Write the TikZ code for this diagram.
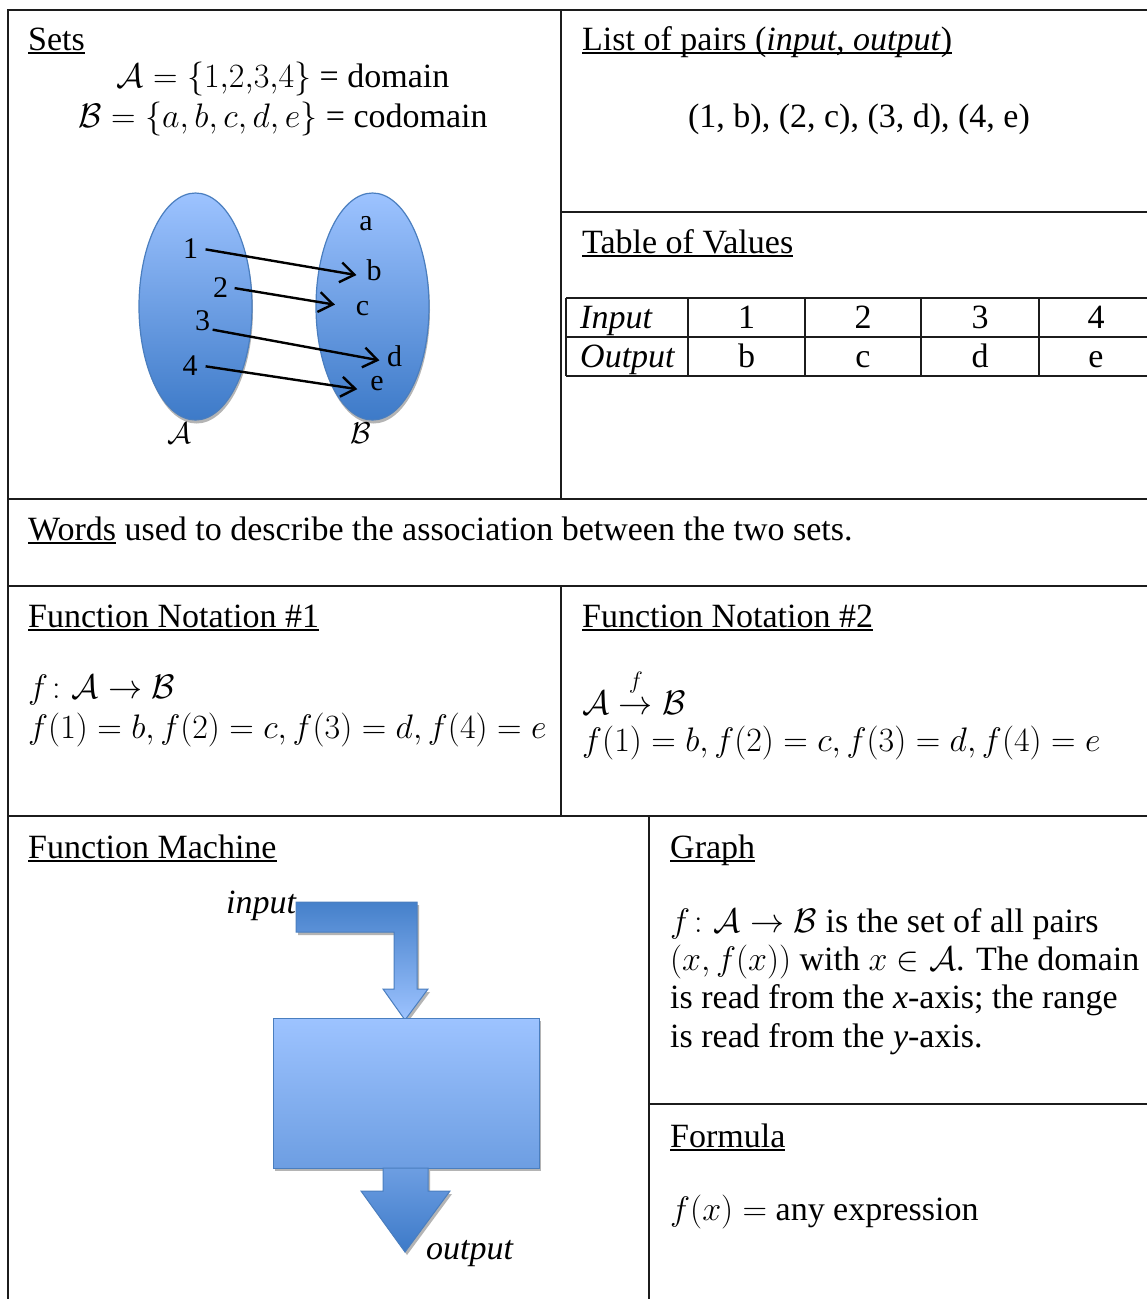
\documentclass[tikz,border=0pt]{standalone}
\usepackage{fix-cm}
\usepackage{amsmath}
\usepackage{fontspec}
\setmainfont{Liberation Serif}
\usetikzlibrary{arrows.meta,calc}
\definecolor{gridk}{HTML}{1C1C1C}
\definecolor{edgeblue}{HTML}{4A7EBF}
\definecolor{lighttop}{HTML}{9DC3FF}
\definecolor{darkbot}{HTML}{3D7AC8}
\definecolor{boxbot}{HTML}{6D9EE2}
\definecolor{arrdark}{HTML}{4580CA}
\definecolor{shadowgray}{HTML}{B4B4B4}
\newcommand{\fs}{\fontsize{34}{40}\selectfont}
\newcommand{\fsl}{\fontsize{30}{36}\selectfont}
\newsavebox\myulbox
\newcommand{\myul}[1]{\sbox\myulbox{#1}\rlap{\rule[-4pt]{\wd\myulbox}{2pt}}\usebox\myulbox}
\tikzset{
  gridline/.style={line width=2pt, draw=gridk},
  lbl/.style={inner sep=0pt, font=\fs, anchor=base west},
  clbl/.style={inner sep=0pt, font=\fs, anchor=base},
  setlbl/.style={inner sep=0pt, font=\fsl, anchor=base},
  maparrow/.style={line width=2.4pt, -{Straight Barb[length=14pt,width=20pt,line width=2.4pt]}},
  blob/.style={draw=edgeblue, line width=1.2pt, top color=lighttop, bottom color=darkbot},
  shad/.style={fill=shadowgray},
}
\begin{document}
\begin{tikzpicture}[x=1pt,y=-1pt]
\useasboundingbox (0,0) rectangle (1147,1299);
\fill[white] (0,0) rectangle (1147,1299);

% ---------- grid ----------
\draw[gridline] (1147,10) -- (7.5,10) -- (7.5,1299);
\draw[gridline] (561,10) -- (561,499);
\draw[gridline] (561,212) -- (1147,212);
\draw[gridline] (7.5,499) -- (1147,499);
\draw[gridline] (7.5,586) -- (1147,586);
\draw[gridline] (561,586) -- (561,816);
\draw[gridline] (7.5,816) -- (1147,816);
\draw[gridline] (649,816) -- (649,1299);
\draw[gridline] (649,1104) -- (1147,1104);

% ---------- Sets ----------
\node[lbl] (setsT) at (28,50) {\myul{Sets}};
\node[clbl] (setA) at (283,87) {$\mathcal{A} = \{1{,}2{,}3{,}4\}$ = domain};
\node[clbl] (setB) at (283,127) {$\mathcal{B} = \{a, b, c, d, e\}$ = codomain};

\fill[shad] (196.5,310) ellipse [x radius=56.5pt, y radius=113.5pt];
\fill[shad] (373.5,310) ellipse [x radius=56.5pt, y radius=113.5pt];
\path[blob] (195.5,306.5) ellipse [x radius=56.5pt, y radius=113.5pt];
\path[blob] (372.5,306.5) ellipse [x radius=56.5pt, y radius=113.5pt];

\node[setlbl] (n1) at (190.5,258) {1};
\node[setlbl] (n2) at (220.5,297) {2};
\node[setlbl] (n3) at (202.5,330) {3};
\node[setlbl] (n4) at (190,375) {4};
\node[setlbl] (la) at (366,230) {a};
\node[setlbl] (lb) at (374,280) {b};
\node[setlbl] (lc) at (362.5,315) {c};
\node[setlbl] (ld) at (394.5,366) {d};
\node[setlbl] (le) at (377,390) {e};
\node[setlbl] (capA) at (179,443) {$\mathcal{A}$};
\node[setlbl] (capB) at (361,443) {$\mathcal{B}$};

\draw[maparrow, shorten <=7.5pt, shorten >=10pt] (n1.east) -- ([yshift=-7pt]lb.west);
\draw[maparrow, shorten <=6.5pt, shorten >=21pt] (n2.east) -- (lc.west);
\draw[maparrow, shorten <=2.5pt, shorten >=7.5pt] ([yshift=-9pt]n3.east) -- ([yshift=-6pt]ld.west);
\draw[maparrow, shorten <=8pt, shorten >=13pt] (n4.east) -- ([yshift=-8pt]le.west);

% ---------- List of pairs ----------
\node[lbl] (pairsT) at (582,50) {\myul{List of pairs (\textit{input, output})}};
\node[clbl] (pairs) at (859,127) {(1, b), (2, c), (3, d), (4, e)};

% ---------- Table of values ----------
\node[lbl] (tableT) at (582,253) {\myul{Table of Values}};
\draw[gridline] (566,298) -- (1147,298);
\draw[gridline] (566,337) -- (1147,337);
\draw[gridline] (566,376) -- (1147,376);
\foreach \xx in {566,688,805,921,1039} {\draw[gridline] (\xx,298) -- (\xx,376);}
\node[lbl] (inH) at (580,328) {\textit{Input}};
\node[lbl] (outH) at (580,367) {\textit{Output}};
\node[clbl] (i1) at (746.5,328) {1};
\node[clbl] (i2) at (863,328) {2};
\node[clbl] (i3) at (980,328) {3};
\node[clbl] (i4) at (1096,328) {4};
\node[clbl] (o1) at (746.5,367) {b};
\node[clbl] (o2) at (863,367) {c};
\node[clbl] (o3) at (980,367) {d};
\node[clbl] (o4) at (1096,367) {e};

% ---------- Words ----------
\node[lbl] (words) at (28,540) {\myul{Words} used to describe the association between the two sets.};

% ---------- Function notation ----------
\node[lbl] (fn1T) at (28,627) {\myul{Function Notation \#1}};
\node[lbl] (fn1a) at (28,698) {$f\colon \mathcal{A} \to \mathcal{B}$};
\node[lbl] (fn1b) at (28,738) {$f(1) = b, f(2) = c, f(3) = d, f(4) = e$};
\node[lbl] (fn2T) at (582,627) {\myul{Function Notation \#2}};
\node[lbl] (fn2a) at (582,714) {$\mathcal{A} \mathrel{\overset{\raisebox{8pt}{$\scriptstyle f$}}{\to}} \mathcal{B}$};
\node[lbl] (fn2b) at (582,751) {$f(1) = b, f(2) = c, f(3) = d, f(4) = e$};

% ---------- Function machine ----------
\node[lbl] (fmT) at (28,858) {\myul{Function Machine}};
\begin{scope}[xshift=2pt,yshift=-3pt]
  \fill[shad] (296,902) -- (417,902) -- (417,989) -- (428,989) -- (405,1020) -- (383,989) -- (394,989) -- (394,932) -- (296,932) -- cycle;
  \fill[shad] (273,1018) rectangle (539,1168);
  \fill[shad] (383,1168) -- (428,1168) -- (428,1191) -- (450,1191) -- (405,1252) -- (361,1191) -- (383,1191) -- cycle;
\end{scope}
\path[draw=edgeblue, line width=1pt, top color=arrdark, bottom color=lighttop]
  (296,902) -- (417,902) -- (417,989) -- (428,989) -- (405,1020) -- (383,989) -- (394,989) -- (394,932) -- (296,932) -- cycle;
\path[draw=edgeblue, line width=1pt, top color=lighttop, bottom color=boxbot]
  (273,1018) rectangle (539,1168);
\path[draw=edgeblue, line width=1pt, top color=boxbot, bottom color=darkbot]
  (383,1168) -- (428,1168) -- (428,1191) -- (450,1191) -- (405,1252) -- (361,1191) -- (383,1191) -- cycle;
\node[lbl] (inLbl) at (226,913) {\textit{input}};
\node[lbl] (outLbl) at (426,1259) {\textit{output}};

% ---------- Graph ----------
\node[lbl] (grT) at (670,858) {\myul{Graph}};
\node[lbl] (gr1) at (670,932) {$f\colon \mathcal{A} \to \mathcal{B}$ is the set of all pairs};
\node[lbl] (gr2) at (670,970) {$(x, f(x))$ with $x \in \mathcal{A}$. The domain};
\node[lbl] (gr3) at (670,1008) {is read from the \textit{x}-axis; the range};
\node[lbl] (gr4) at (670,1047) {is read from the \textit{y}-axis.};

% ---------- Formula ----------
\node[lbl] (foT) at (670,1147) {\myul{Formula}};
\node[lbl] (fo1) at (670,1220) {$f(x) =$ any expression};
\end{tikzpicture}
\end{document}
